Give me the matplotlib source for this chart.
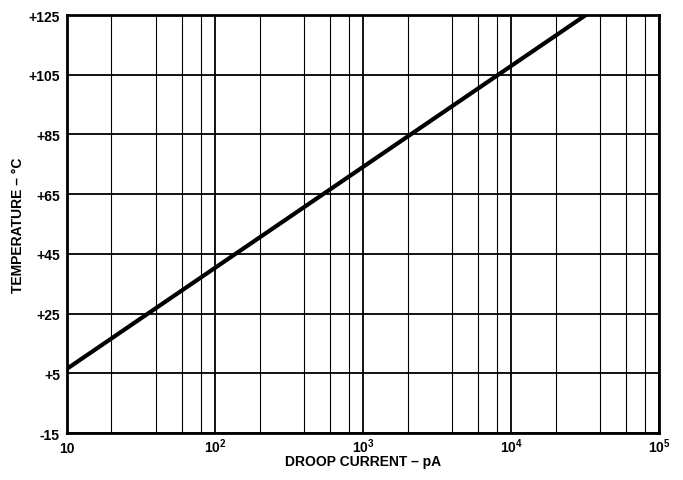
import numpy as np
import matplotlib
matplotlib.use("Agg")
import matplotlib.pyplot as plt
from matplotlib.ticker import FixedLocator, FixedFormatter

# droop current (pA) vs temperature (C), straight line on log scale
current = [10, 3.2e4]
temp = [6.5, 125]

yticks = [-15, 5, 25, 45, 65, 85, 105, 125]
ylabels = ["-15", "+5", "+25", "+45", "+65", "+85", "+105", "+125"]
xticks = [10, 1e2, 1e3, 1e4, 1e5]
xlabels = ["10", "$\\mathbf{10^2}$", "$\\mathbf{10^3}$", "$\\mathbf{10^4}$", "$\\mathbf{10^5}$"]
minor = [m * d for d in [10, 100, 1000, 10000] for m in [2, 4, 6, 8]]

plt.rcParams['font.family'] = ['Liberation Sans', 'DejaVu Sans']
plt.rcParams['mathtext.fontset'] = 'custom'
plt.rcParams['mathtext.bf'] = 'Liberation Sans:bold'
plt.rcParams['mathtext.rm'] = 'Liberation Sans:bold'

fig = plt.figure(figsize=(6.83, 4.81), dpi=100)
ax = fig.add_axes([0.098, 0.0977, 0.867, 0.869])

ax.set_xscale("log")
ax.set_xlim(10, 1e5)
ax.set_ylim(-15, 125)

ax.xaxis.set_major_locator(FixedLocator(xticks))
ax.xaxis.set_major_formatter(FixedFormatter(xlabels))
ax.xaxis.set_minor_locator(FixedLocator(minor))
ax.xaxis.set_minor_formatter(FixedFormatter([]))
ax.set_yticks(yticks)
ax.set_yticklabels(ylabels)

ax.grid(True, which="major", color="black", linewidth=1.3)
ax.grid(True, which="minor", axis="x", color="black", linewidth=0.8)

ax.plot(current, temp, color="black", linewidth=3, solid_capstyle="butt")

for s in ax.spines.values():
    s.set_linewidth(2)

ax.tick_params(which="both", length=0)
ax.tick_params(axis="y", pad=5, labelsize=10)
ax.tick_params(axis="x", pad=14, labelsize=10)
for lab in ax.get_xticklabels() + ax.get_yticklabels():
    lab.set_fontweight("bold")
for lab in ax.get_xticklabels():
    lab.set_va("baseline")

ax.set_xlabel("DROOP CURRENT – pA", fontsize=10, fontweight="bold")
ax.set_ylabel("TEMPERATURE – °C", fontsize=10, fontweight="bold")
ax.xaxis.set_label_coords(0.5, -0.067)
ax.yaxis.set_label_coords(-0.083, 0.5)
ax.xaxis.label.set_va("center")
ax.yaxis.label.set_va("center")

fig.savefig("out.png", dpi=100)
